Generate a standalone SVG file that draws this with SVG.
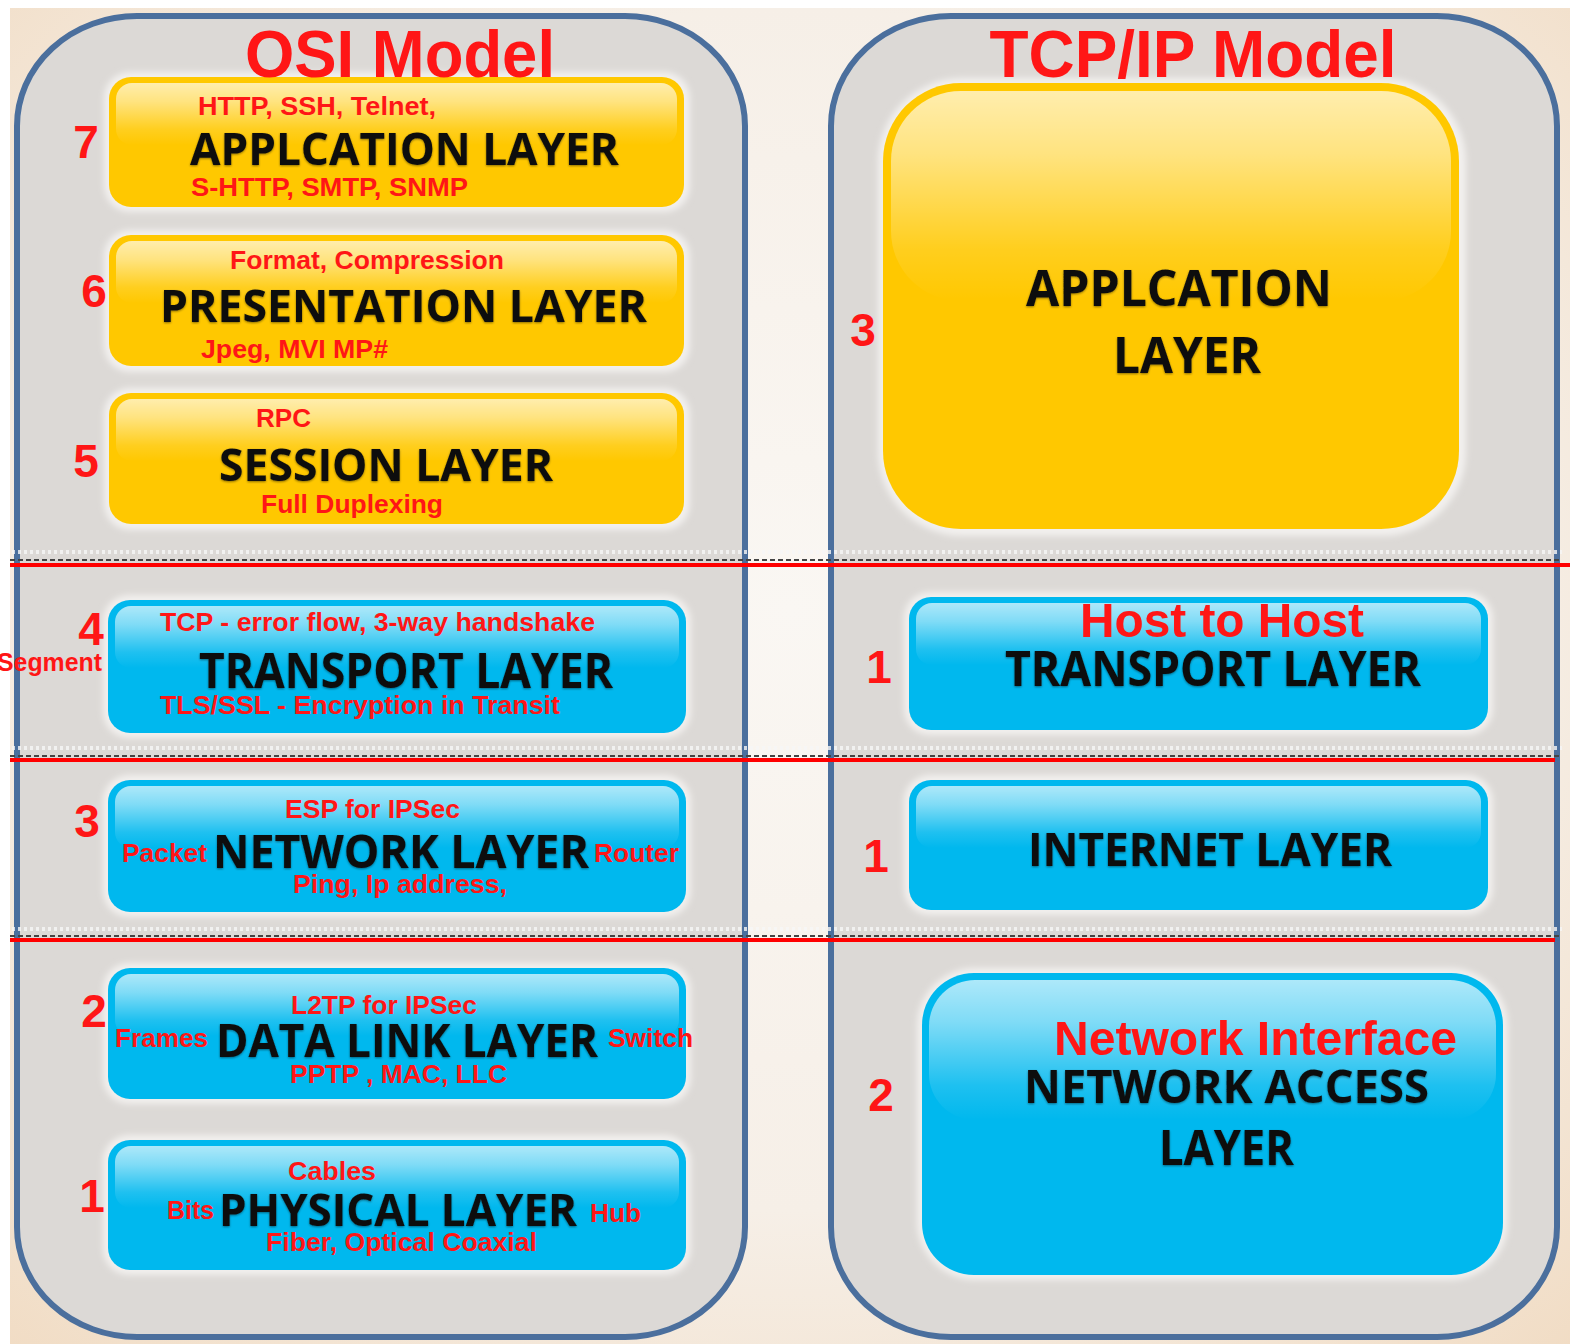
<svg xmlns="http://www.w3.org/2000/svg" width="1570" height="1344" viewBox="0 0 1570 1344">
  <defs>
    <radialGradient id="bg" cx="0.5" cy="0.45" r="0.75">
      <stop offset="0" stop-color="#faf7f3"/>
      <stop offset="0.6" stop-color="#f6efe7"/>
      <stop offset="1" stop-color="#f1dcc4"/>
    </radialGradient>
    <linearGradient id="gloss" x1="0" y1="0" x2="0" y2="1">
      <stop offset="0" stop-color="#ffffff" stop-opacity="0.68"/>
      <stop offset="0.3" stop-color="#ffffff" stop-opacity="0.5"/>
      <stop offset="0.75" stop-color="#ffffff" stop-opacity="0.12"/>
      <stop offset="1" stop-color="#ffffff" stop-opacity="0"/>
    </linearGradient>
    <filter id="soft" x="-5%" y="-20%" width="110%" height="140%">
      <feDropShadow dx="0" dy="1" stdDeviation="1.2" flood-color="#000" flood-opacity="0.45"/>
    </filter>
    <filter id="halo" x="-10%" y="-20%" width="120%" height="140%">
      <feGaussianBlur stdDeviation="3"/>
    </filter>
  </defs>
  <style>
    .panel { fill: #dcd9d6; stroke: #4b6f9d; stroke-width: 6; }
    .ybox { fill: #ffc800; }
    .bbox { fill: #00b8ee; }
    .glow { fill: #f2f0ee; filter: url(#halo); }
    .gloss { fill: url(#gloss); }
    .k { font-family: "Open Sans", "DejaVu Sans", sans-serif; font-weight: 700; fill: #111111; filter: url(#soft); }
    .r { font-family: "Liberation Sans", Arial, sans-serif; font-weight: 700; fill: #ff1616; }
    .num { font-family: "Liberation Sans", Arial, sans-serif; font-weight: 700; fill: #ff1616; font-size: 46px; }
    .title { font-family: "Liberation Sans", Arial, sans-serif; font-weight: 700; fill: #ff1616; font-size: 66px; }
    .dash { stroke: #444; stroke-width: 2; stroke-dasharray: 5 3; fill: none; }
    .speck { stroke: #f6f6f6; stroke-width: 4; stroke-dasharray: 3 3; fill: none; opacity: 0.8; }
    .red { stroke: #ff0000; stroke-width: 4; fill: none; }
  </style>

  <!-- page background -->
  <rect x="0" y="0" width="1570" height="1344" fill="#ffffff"/>
  <rect x="10" y="8" width="1560" height="1336" fill="url(#bg)"/>

  <!-- model frames -->
  <g id="osi-frame">
    <rect class="panel" x="17" y="16" width="728" height="1321" rx="120" ry="110"/>
  </g>
  <g id="tcpip-frame">
    <rect class="panel" x="831" y="16" width="726" height="1321" rx="120" ry="110"/>
  </g>

  <!-- layer boundaries -->
  <g id="connectors">
    <line class="speck" x1="12" y1="552" x2="1562" y2="552"/>
    <line class="dash" x1="10" y1="560" x2="1562" y2="560"/>
    <line class="red" x1="10" y1="565" x2="1570" y2="565"/>
    <line class="speck" x1="12" y1="748" x2="1562" y2="748"/>
    <line class="dash" x1="10" y1="756" x2="1562" y2="756"/>
    <line class="red" x1="10" y1="760" x2="1555" y2="760"/>
    <line class="speck" x1="12" y1="929" x2="1562" y2="929"/>
    <line class="dash" x1="10" y1="936" x2="1562" y2="936"/>
    <line class="red" x1="10" y1="940" x2="1555" y2="940"/>
  </g>

  <!-- OSI layers -->
  <g id="osi-7-application">
    <rect class="glow" x="104" y="72" width="586" height="140" rx="26"/>
    <rect class="ybox" x="109" y="77" width="575" height="130" rx="22"/>
    <rect class="gloss" x="116" y="83" width="561" height="62" rx="16"/>
    <text class="num" x="86" y="158" text-anchor="middle">7</text>
    <text class="r" x="198" y="115" font-size="25" textLength="238" lengthAdjust="spacingAndGlyphs">HTTP, SSH, Telnet,</text>
    <text class="k" x="190" y="165" font-size="45" textLength="429" lengthAdjust="spacingAndGlyphs">APPLCATION LAYER</text>
    <text class="r" x="191" y="196" font-size="25" textLength="277" lengthAdjust="spacingAndGlyphs">S-HTTP, SMTP, SNMP</text>
  </g>

  <g id="osi-6-presentation">
    <rect class="glow" x="104" y="230" width="586" height="142" rx="26"/>
    <rect class="ybox" x="109" y="235" width="575" height="131" rx="22"/>
    <rect class="gloss" x="116" y="241" width="561" height="62" rx="16"/>
    <text class="num" x="94" y="307" text-anchor="middle">6</text>
    <text class="r" x="230" y="269" font-size="25" textLength="274" lengthAdjust="spacingAndGlyphs">Format, Compression</text>
    <text class="k" x="160" y="322" font-size="45" textLength="487" lengthAdjust="spacingAndGlyphs">PRESENTATION LAYER</text>
    <text class="r" x="201" y="358" font-size="25" textLength="187" lengthAdjust="spacingAndGlyphs">Jpeg, MVI MP#</text>
  </g>

  <g id="osi-5-session">
    <rect class="glow" x="104" y="388" width="586" height="142" rx="26"/>
    <rect class="ybox" x="109" y="393" width="575" height="131" rx="22"/>
    <rect class="gloss" x="116" y="399" width="561" height="62" rx="16"/>
    <text class="num" x="86" y="477" text-anchor="middle">5</text>
    <text class="r" x="256" y="427" font-size="25" textLength="55" lengthAdjust="spacingAndGlyphs">RPC</text>
    <text class="k" x="219" y="481" font-size="45" textLength="334" lengthAdjust="spacingAndGlyphs">SESSION LAYER</text>
    <text class="r" x="261" y="513" font-size="25" textLength="182" lengthAdjust="spacingAndGlyphs">Full Duplexing</text>
  </g>

  <g id="osi-4-transport">
    <rect class="glow" x="103" y="595" width="588" height="143" rx="26"/>
    <rect class="bbox" x="108" y="600" width="578" height="133" rx="22"/>
    <rect class="gloss" x="115" y="606" width="564" height="62" rx="16"/>
    <text class="num" x="91" y="645" text-anchor="middle">4</text>
    <text class="r" x="-3" y="671" font-size="25" textLength="105" lengthAdjust="spacingAndGlyphs">Segment</text>
    <text class="r" x="160" y="631" font-size="25" textLength="435" lengthAdjust="spacingAndGlyphs">TCP - error flow, 3-way handshake</text>
    <text class="k" x="199" y="688" font-size="49" textLength="414" lengthAdjust="spacingAndGlyphs">TRANSPORT LAYER</text>
    <text class="r" x="160" y="714" font-size="25" textLength="400" lengthAdjust="spacingAndGlyphs">TLS/SSL - Encryption in Transit</text>
  </g>

  <g id="osi-3-network">
    <rect class="glow" x="103" y="775" width="588" height="142" rx="26"/>
    <rect class="bbox" x="108" y="780" width="578" height="132" rx="22"/>
    <rect class="gloss" x="115" y="786" width="564" height="62" rx="16"/>
    <text class="num" x="87" y="837" text-anchor="middle">3</text>
    <text class="r" x="285" y="818" font-size="25" textLength="175" lengthAdjust="spacingAndGlyphs">ESP for IPSec</text>
    <text class="r" x="122" y="862" font-size="25" textLength="85" lengthAdjust="spacingAndGlyphs">Packet</text>
    <text class="k" x="213" y="868" font-size="46" textLength="376" lengthAdjust="spacingAndGlyphs">NETWORK LAYER</text>
    <text class="r" x="594" y="862" font-size="25" textLength="85" lengthAdjust="spacingAndGlyphs">Router</text>
    <text class="r" x="293" y="893" font-size="25" textLength="214" lengthAdjust="spacingAndGlyphs">Ping, Ip address,</text>
  </g>

  <g id="osi-2-datalink">
    <rect class="glow" x="103" y="963" width="588" height="141" rx="26"/>
    <rect class="bbox" x="108" y="968" width="578" height="131" rx="22"/>
    <rect class="gloss" x="115" y="974" width="564" height="62" rx="16"/>
    <text class="num" x="94" y="1027" text-anchor="middle">2</text>
    <text class="r" x="291" y="1014" font-size="25" textLength="186" lengthAdjust="spacingAndGlyphs">L2TP for IPSec</text>
    <text class="r" x="115" y="1047" font-size="25" textLength="93" lengthAdjust="spacingAndGlyphs">Frames</text>
    <text class="k" x="216" y="1057" font-size="47" textLength="382" lengthAdjust="spacingAndGlyphs">DATA LINK LAYER</text>
    <text class="r" x="608" y="1047" font-size="25" textLength="85" lengthAdjust="spacingAndGlyphs">Switch</text>
    <text class="r" x="290" y="1083" font-size="25" textLength="217" lengthAdjust="spacingAndGlyphs">PPTP , MAC, LLC</text>
  </g>

  <g id="osi-1-physical">
    <rect class="glow" x="103" y="1135" width="588" height="140" rx="26"/>
    <rect class="bbox" x="108" y="1140" width="578" height="130" rx="22"/>
    <rect class="gloss" x="115" y="1146" width="564" height="62" rx="16"/>
    <text class="num" x="92" y="1212" text-anchor="middle">1</text>
    <text class="r" x="288" y="1180" font-size="25" textLength="88" lengthAdjust="spacingAndGlyphs">Cables</text>
    <text class="r" x="167" y="1219" font-size="25" textLength="47" lengthAdjust="spacingAndGlyphs">Bits</text>
    <text class="k" x="219" y="1226" font-size="45" textLength="358" lengthAdjust="spacingAndGlyphs">PHYSICAL LAYER</text>
    <text class="r" x="590" y="1222" font-size="25" textLength="51" lengthAdjust="spacingAndGlyphs">Hub</text>
    <text class="r" x="266" y="1251" font-size="25" textLength="271" lengthAdjust="spacingAndGlyphs">Fiber, Optical Coaxial</text>
  </g>

  <!-- TCP/IP layers -->
  <g id="tcpip-application">
    <rect class="glow" x="878" y="78" width="588" height="458" rx="84"/>
    <rect class="ybox" x="883" y="83" width="576" height="446" rx="78"/>
    <rect class="gloss" x="891" y="91" width="560" height="210" rx="70"/>
    <text class="num" x="863" y="346" text-anchor="middle">3</text>
    <text class="k" x="1026" y="306" font-size="50" textLength="306" lengthAdjust="spacingAndGlyphs">APPLCATION</text>
    <text class="k" x="1113" y="373" font-size="50" textLength="148" lengthAdjust="spacingAndGlyphs">LAYER</text>
  </g>

  <g id="tcpip-transport">
    <rect class="glow" x="904" y="592" width="589" height="143" rx="26"/>
    <rect class="bbox" x="909" y="597" width="579" height="133" rx="22"/>
    <rect class="gloss" x="916" y="603" width="565" height="62" rx="16"/>
    <text class="num" x="879" y="683" text-anchor="middle">1</text>
    <text class="r" x="1080" y="637" font-size="49" textLength="284" lengthAdjust="spacingAndGlyphs">Host to Host</text>
    <text class="k" x="1005" y="686" font-size="48" textLength="416" lengthAdjust="spacingAndGlyphs">TRANSPORT LAYER</text>
  </g>

  <g id="tcpip-internet">
    <rect class="glow" x="904" y="775" width="589" height="140" rx="26"/>
    <rect class="bbox" x="909" y="780" width="579" height="130" rx="22"/>
    <rect class="gloss" x="916" y="786" width="565" height="62" rx="16"/>
    <text class="num" x="876" y="872" text-anchor="middle">1</text>
    <text class="k" x="1028" y="866" font-size="46" textLength="364" lengthAdjust="spacingAndGlyphs">INTERNET LAYER</text>
  </g>

  <g id="tcpip-network-access">
    <rect class="glow" x="917" y="968" width="591" height="312" rx="58"/>
    <rect class="bbox" x="922" y="973" width="581" height="302" rx="52"/>
    <rect class="gloss" x="929" y="980" width="567" height="140" rx="46"/>
    <text class="num" x="881" y="1111" text-anchor="middle">2</text>
    <text class="r" x="1054" y="1055" font-size="49" textLength="403" lengthAdjust="spacingAndGlyphs">Network Interface</text>
    <text class="k" x="1024" y="1103" font-size="46" textLength="405" lengthAdjust="spacingAndGlyphs">NETWORK ACCESS</text>
    <text class="k" x="1159" y="1165" font-size="48" textLength="135" lengthAdjust="spacingAndGlyphs">LAYER</text>
  </g>

  <!-- frame headings, drawn last so they sit over the top boxes -->
  <g id="headings">
    <text class="title" x="400" y="77" text-anchor="middle" textLength="310" lengthAdjust="spacingAndGlyphs">OSI Model</text>
    <text class="title" x="1193" y="77" text-anchor="middle" textLength="407" lengthAdjust="spacingAndGlyphs">TCP/IP Model</text>
  </g>
</svg>
